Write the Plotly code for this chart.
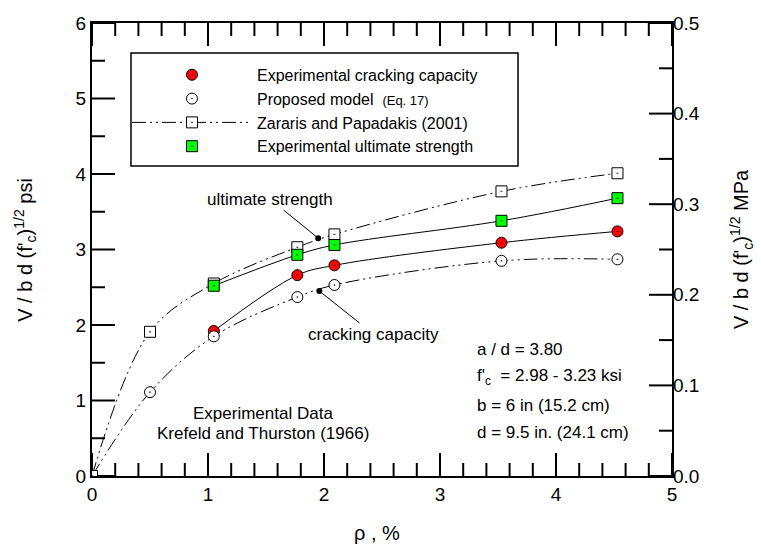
import plotly.graph_objects as go

# ---- data ----
rho_exp = [1.05, 1.77, 2.09, 3.53, 4.53]
crack_exp = [1.92, 2.66, 2.79, 3.09, 3.24]
ult_exp = [2.52, 2.93, 3.06, 3.38, 3.68]

rho_model = [0.0, 0.5, 1.05, 1.77, 2.09, 3.53, 4.53]
model_vals = [0.0, 1.11, 1.85, 2.37, 2.53, 2.85, 2.87]
zararis_vals = [0.0, 1.91, 2.55, 3.03, 3.20, 3.77, 4.01]

note_x = [1.95, 1.96]
note_y = [3.15, 2.45]
note_text = ["ultimate strength", "cracking capacity"]

x_ticks = [0, 1, 2, 3, 4, 5]
x_minor = [round(0.2 * i, 1) for i in range(26) if i % 5]
y_ticks = [0, 1, 2, 3, 4, 5, 6]
y_minor = [0.5, 1.5, 2.5, 3.5, 4.5, 5.5]
y2_ticks = [0.0, 0.1, 0.2, 0.3, 0.4, 0.5]
y2_minor = [0.05, 0.15, 0.25, 0.35, 0.45]

FONT = "Liberation Sans, Arial, sans-serif"
DASHDOTDOT = "14px,4px,2px,4px,2px,4px"
W, H = 761, 546
ML, MR, MT, MB = 92, 89, 23, 70
PW, PH = W - ML - MR, H - MT - MB
MAJ, MIN = 23, 13  # tick lengths in px
X_RANGE, Y_RANGE, Y2_RANGE = [0, 5], [0, 6], [0, 0.5]

fig = go.Figure()

# curve lines (no legend)
fig.add_trace(go.Scatter(x=rho_exp, y=crack_exp, mode="lines", line=dict(color="black", width=1, shape="spline"),
                         showlegend=False, hoverinfo="skip"))
fig.add_trace(go.Scatter(x=rho_exp, y=ult_exp, mode="lines", line=dict(color="black", width=1, shape="spline"),
                         showlegend=False, hoverinfo="skip"))
fig.add_trace(go.Scatter(x=rho_model, y=model_vals, mode="lines",
                         line=dict(color="black", width=1, shape="spline", dash=DASHDOTDOT),
                         showlegend=False, hoverinfo="skip"))

# ---- inward tick marks, built from the tick arrays on the axes' scales ----
sx = (X_RANGE[1] - X_RANGE[0]) / PW
sy = (Y_RANGE[1] - Y_RANGE[0]) / PH
sy2 = (Y2_RANGE[1] - Y2_RANGE[0]) / PH

tx, ty = [], []
for vals, L in ((x_ticks, MAJ), (x_minor, MIN)):
    for v in vals:
        tx += [v, v, None, v, v, None]
        ty += [Y_RANGE[0], Y_RANGE[0] + L * sy, None, Y_RANGE[1], Y_RANGE[1] - L * sy, None]
for vals, L in ((y_ticks, MAJ), (y_minor, MIN)):
    for v in vals:
        tx += [X_RANGE[0], X_RANGE[0] + L * sx, None]
        ty += [v, v, None]
fig.add_trace(go.Scatter(x=tx, y=ty, mode="lines", line=dict(color="black", width=2), showlegend=False,
                         hoverinfo="skip", cliponaxis=False))

rx, ry = [], []
for vals, L in ((y2_ticks, MAJ), (y2_minor, MIN)):
    for v in vals:
        rx += [X_RANGE[1], X_RANGE[1] - L * sx, None]
        ry += [v, v, None]
fig.add_trace(go.Scatter(x=rx, y=ry, yaxis="y2", mode="lines", line=dict(color="black", width=2),
                         showlegend=False, hoverinfo="skip", cliponaxis=False))

# legend / marker traces
fig.add_trace(go.Scatter(x=rho_exp, y=crack_exp, mode="markers", name="Experimental cracking capacity",
                         marker=dict(symbol="circle-dot", size=11, color="#ff0000", line=dict(color="black", width=1))))
fig.add_trace(go.Scatter(x=rho_model, y=model_vals, mode="markers",
                         name="Proposed model\u00a0 <span style='font-size:13px'>(Eq. 17)</span>",
                         marker=dict(symbol="circle-dot", size=11, color="white", line=dict(color="black", width=1))))
fig.add_trace(go.Scatter(x=rho_model, y=zararis_vals, mode="lines+markers", name="Zararis and Papadakis (2001)",
                         line=dict(color="black", width=1, shape="spline", dash=DASHDOTDOT),
                         marker=dict(symbol="square-dot", size=11, color="white", line=dict(color="black", width=1))))
fig.add_trace(go.Scatter(x=rho_exp, y=ult_exp, mode="markers", name="Experimental ultimate strength",
                         marker=dict(symbol="square-dot", size=11, color="#00ff00", line=dict(color="black", width=1))))

# annotation points
fig.add_trace(go.Scatter(x=note_x, y=note_y, mode="markers", showlegend=False, hoverinfo="skip",
                         marker=dict(symbol="circle", size=6, color="black")))

shapes = [dict(type="rect", xref="paper", yref="paper", x0=0.0672, x1=0.7345, y0=0.6843, y1=0.9338,
               line=dict(color="black", width=1.5), fillcolor="rgba(0,0,0,0)", layer="below")]

ann = []
ann.append(dict(x=note_x[0], y=note_y[0], text=note_text[0], showarrow=True, arrowhead=0, arrowwidth=1,
                arrowcolor="black", ax=-48, ay=-39, font=dict(size=17)))
ann.append(dict(x=note_x[1], y=note_y[1], text=note_text[1], showarrow=True, arrowhead=0, arrowwidth=1,
                arrowcolor="black", ax=54, ay=43, font=dict(size=17)))
ann.append(dict(x=1.47, y=0.83, text="Experimental Data", showarrow=False, font=dict(size=17)))
ann.append(dict(x=1.47, y=0.56, text="Krefeld and Thurston (1966)", showarrow=False, font=dict(size=17)))
info = ["a / d = 3.80", "f'<sub>c</sub>  = 2.98 - 3.23 ksi", "b = 6 in (15.2 cm)", "d = 9.5 in. (24.1 cm)"]
info_y = [1.67, 1.31, 0.94, 0.58]
for t, yy in zip(info, info_y):
    ann.append(dict(x=3.30, y=yy, text=t, showarrow=False, xanchor="left", font=dict(size=17)))

# axis titles
ann.append(dict(xref="paper", yref="paper", x=0.491, y=-0.126, xanchor="center", yanchor="middle",
                text="ρ , %", showarrow=False, font=dict(size=20)))
ann.append(dict(xref="paper", yref="paper", x=-0.115, y=0.5, xanchor="center", yanchor="middle",
                text="V / b d (f'<sub>c</sub>)<sup>1/2</sup> psi", textangle=-90, showarrow=False,
                font=dict(size=20)))
ann.append(dict(xref="paper", yref="paper", x=1.12, y=0.5, xanchor="center", yanchor="middle",
                text="V / b d (f'<sub>c</sub>)<sup>1/2</sup> MPa", textangle=-90, showarrow=False,
                font=dict(size=20)))

fig.update_layout(
    width=W, height=H,
    margin=dict(l=ML, r=MR, t=MT, b=MB),
    paper_bgcolor="white", plot_bgcolor="white",
    font=dict(family=FONT, color="black", size=17),
    xaxis=dict(range=X_RANGE, tickvals=x_ticks, showline=True, mirror=True, linecolor="black", linewidth=2,
               ticks="", showgrid=False, zeroline=False, tickfont=dict(size=19)),
    yaxis=dict(range=Y_RANGE, tickvals=y_ticks, showline=True, mirror=True, linecolor="black", linewidth=2,
               ticks="", ticksuffix="\u2009", showgrid=False, zeroline=False, tickfont=dict(size=19)),
    yaxis2=dict(range=Y2_RANGE, tickvals=y2_ticks, tickformat=".1f", overlaying="y", side="right",
                anchor="x", showline=False, ticks="", showgrid=False, zeroline=False, tickfont=dict(size=19)),
    legend=dict(x=0.0603, y=0.923, xanchor="left", yanchor="top", bgcolor="rgba(0,0,0,0)", borderwidth=0,
                itemwidth=120, font=dict(size=16), traceorder="normal"),
    annotations=ann,
    shapes=shapes,
)

fig.write_html("out.html")
